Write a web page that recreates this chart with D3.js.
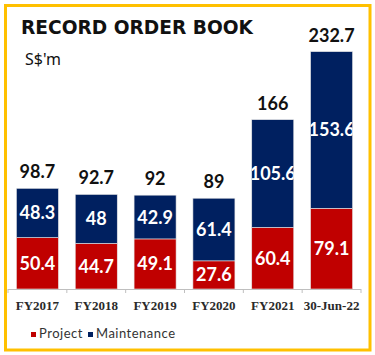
<!DOCTYPE html>
<html><head><meta charset="utf-8">
<script src="https://cdn.jsdelivr.net/npm/d3@7"></script>
<style>html,body{margin:0;padding:0;background:#fff;}svg{display:block;}</style>
</head><body>
<svg id="chart" width="375" height="355"></svg>
<script>
const categories = ["FY2017","FY2018","FY2019","FY2020","FY2021","30-Jun-22"];
const project = [50.4,44.7,49.1,27.6,60.4,79.1];
const maintenance = [48.3,48,42.9,61.4,105.6,153.6];
const totals = ["98.7","92.7","92","89","166","232.7"];
const seriesNames = ["Project","Maintenance"];
const colors = ["#C00000","#002060"];

const svg = d3.select("#chart");
svg.append("rect").attr("x",5.5).attr("y",5.5).attr("width",364.5).attr("height",344.5)
  .attr("fill","#fff").attr("stroke","#FFC000").attr("stroke-width",3);

const x = d3.scaleBand().domain(categories).range([8,361]).paddingInner(0.286).paddingOuter(0.143);
const y = d3.scaleLinear().domain([0,250]).range([289,34]);

const rows = categories.map((c,i)=>({cat:c, Project:project[i], Maintenance:maintenance[i], total:totals[i]}));
const stacked = d3.stack().keys(seriesNames)(rows);

const defs = svg.append("defs");
rows.forEach((r,i)=>{
  defs.append("clipPath").attr("id","clip"+i).append("rect")
    .attr("x",x(r.cat)).attr("y",0).attr("width",x.bandwidth()).attr("height",355);
});

stacked.forEach((s,si)=>{
  const g = svg.append("g");
  g.selectAll("rect").data(s).join("rect")
    .attr("x",d=>x(d.data.cat)).attr("y",d=>y(d[1]))
    .attr("width",x.bandwidth()).attr("height",d=>y(d[0])-y(d[1]))
    .attr("fill",colors[si]).attr("stroke","#e6e6e6").attr("stroke-width",0.6);
  g.selectAll("text").data(s).join("text")
    .attr("clip-path",(d,i)=>"url(#clip"+i+")")
    .attr("x",d=>x(d.data.cat)+x.bandwidth()/2)
    .attr("y",d=>(y(d[0])+y(d[1]))/2)
    .attr("dy","0.36em")
    .attr("text-anchor","middle")
    .attr("font-family","Lato, sans-serif").attr("font-weight","bold").attr("font-size",18)
    .attr("fill","#fff")
    .text(d=>String(d.data[seriesNames[si]]));
});

// totals
svg.append("g").selectAll("text").data(rows).join("text")
  .attr("x",d=>x(d.cat)+x.bandwidth()/2)
  .attr("y",(d,i)=>y(project[i]+maintenance[i])-10)
  .attr("text-anchor","middle")
  .attr("font-family","Lato, sans-serif").attr("font-weight","bold").attr("font-size",18)
  .attr("fill","#111")
  .text(d=>d.total);

// axis
const axisG = svg.append("g").attr("transform","translate(0,289)");
axisG.call(d3.axisBottom(x).tickSize(0).tickPadding(0));
axisG.select(".domain").attr("stroke","#bfbfbf").attr("d","M8,0.5H361");
axisG.selectAll(".tick text").attr("font-family","'Liberation Serif', serif")
  .attr("font-weight","bold").attr("font-size",13).attr("fill","#2a2a2a").attr("dy","1.6em");
const step = x.step();
const bounds = categories.map(c=>x(c)-step*x.paddingInner()/2).concat([361]);
axisG.selectAll("line.sep").data(bounds).join("line").attr("class","sep")
  .attr("x1",d=>d).attr("x2",d=>d).attr("y1",0).attr("y2",4).attr("stroke","#bfbfbf");

// title
svg.append("text").attr("x",21).attr("y",34).attr("font-family","'DejaVu Sans', sans-serif")
  .attr("font-weight","bold").attr("font-size",20).attr("fill","#111")
  .attr("textLength",232).attr("lengthAdjust","spacingAndGlyphs").text("RECORD ORDER BOOK");
svg.append("text").attr("x",25).attr("y",65).attr("font-family","'Noto Sans', sans-serif")
  .attr("font-size",16).attr("fill","#111").text("S$'m");

// legend
const legendX = [31, 88];
seriesNames.forEach((n,i)=>{
  svg.append("rect").attr("x",legendX[i]).attr("y",332).attr("width",5).attr("height",5).attr("fill",colors[i]);
  svg.append("text").attr("x",legendX[i]+8).attr("y",338).attr("font-family","Lato, sans-serif")
    .attr("font-size",13).attr("letter-spacing",0.5).attr("fill","#333").text(n);
});
</script>
</body></html>
